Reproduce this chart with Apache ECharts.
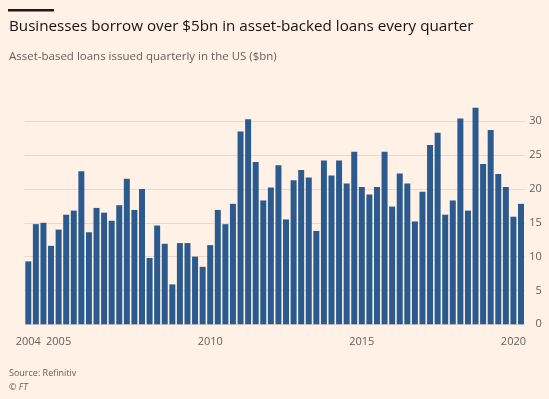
<!DOCTYPE html>
<html>
<head>
<meta charset="utf-8">
<script src="https://cdn.jsdelivr.net/npm/echarts@6/dist/echarts.min.js"></script>
<style>
  html, body { margin: 0; padding: 0; background: #fff1e5; }
  #chart { width: 549px; height: 399px; }
</style>
</head>
<body>
<div id="chart"></div>
<script>
// quarterly categories, 2004 Q1 .. 2020 Q2
const quarters = [
    '2004 Q1', '2004 Q2', '2004 Q3', '2004 Q4', '2005 Q1', '2005 Q2', '2005 Q3', '2005 Q4',
    '2006 Q1', '2006 Q2', '2006 Q3', '2006 Q4', '2007 Q1', '2007 Q2', '2007 Q3', '2007 Q4',
    '2008 Q1', '2008 Q2', '2008 Q3', '2008 Q4', '2009 Q1', '2009 Q2', '2009 Q3', '2009 Q4',
    '2010 Q1', '2010 Q2', '2010 Q3', '2010 Q4', '2011 Q1', '2011 Q2', '2011 Q3', '2011 Q4',
    '2012 Q1', '2012 Q2', '2012 Q3', '2012 Q4', '2013 Q1', '2013 Q2', '2013 Q3', '2013 Q4',
    '2014 Q1', '2014 Q2', '2014 Q3', '2014 Q4', '2015 Q1', '2015 Q2', '2015 Q3', '2015 Q4',
    '2016 Q1', '2016 Q2', '2016 Q3', '2016 Q4', '2017 Q1', '2017 Q2', '2017 Q3', '2017 Q4',
    '2018 Q1', '2018 Q2', '2018 Q3', '2018 Q4', '2019 Q1', '2019 Q2', '2019 Q3', '2019 Q4',
    '2020 Q1', '2020 Q2'
];

// asset-based loans issued, $bn
const loans = [
    9.3, 14.8, 15.0, 11.6, 14.0, 16.2, 16.8, 22.6,
    13.6, 17.2, 16.5, 15.3, 17.6, 21.5, 16.9, 20.0,
    9.8, 14.6, 11.9, 5.9, 12.0, 12.0, 10.0, 8.5,
    11.7, 16.9, 14.8, 17.8, 28.5, 30.3, 24.0, 18.3,
    20.2, 23.5, 15.5, 21.3, 22.8, 21.7, 13.8, 24.2,
    22.0, 24.2, 20.8, 25.5, 20.3, 19.2, 20.3, 25.5,
    17.4, 22.3, 20.8, 15.2, 19.6, 26.5, 28.3, 16.2,
    18.3, 30.4, 16.8, 32.0, 23.7, 28.7, 22.2, 20.3,
    15.9, 17.8
];

const yearLabels = ['2004', '2005', '2010', '2015', '2020'];

const font = "'Open Sans', sans-serif";

var chart = echarts.init(document.getElementById('chart'));

chart.setOption({
    backgroundColor: '#fff1e5',
    animation: false,
    graphic: [
        { type: 'rect', left: 8, top: 9, shape: { width: 46, height: 2.5 }, style: { fill: '#1a1a1a' } },
        {
            type: 'text', x: 9, y: 27,
            style: { text: 'Businesses borrow over $5bn in asset-backed loans every quarter', fill: '#141212', font: '15.2px ' + font, verticalAlign: 'middle' }
        },
        {
            type: 'text', x: 9, y: 57,
            style: { text: 'Asset-based loans issued quarterly in the US ($bn)', fill: '#66605c', font: '11.5px ' + font, verticalAlign: 'middle' }
        },
        {
            type: 'text', x: 9, y: 373,
            style: { text: 'Source: Refinitiv', fill: '#66605c', font: '9px ' + font, verticalAlign: 'middle' }
        },
        {
            type: 'text', x: 9, y: 387,
            style: { text: '\u00a9 FT', fill: '#66605c', font: 'italic 9px ' + font, verticalAlign: 'middle' }
        }
    ],
    grid: { left: 24.5, right: 24.2, top: 121.3, bottom: 74.7 },
    xAxis: {
        type: 'category',
        data: quarters,
        axisLine: { show: false },
        axisTick: {
            alignWithLabel: true,
            length: 8,
            interval: function (i, v) { return v.endsWith('Q1'); },
            lineStyle: { color: '#bcb2a8' }
        },
        axisLabel: {
            interval: function (i, v) { return v.endsWith('Q1') && yearLabels.includes(v.slice(0, 4)); },
            formatter: function (v) { return v.slice(0, 4); },
            margin: 12,
            color: '#66605c',
            fontFamily: font,
            fontSize: 11
        }
    },
    yAxis: {
        type: 'value',
        position: 'right',
        min: 0,
        max: 30,
        interval: 5,
        axisLine: { show: false },
        axisTick: { show: false },
        splitLine: { lineStyle: { color: '#e6d9ce' } },
        axisLabel: {
            align: 'right',
            margin: 17,
            color: '#66605c',
            fontFamily: font,
            fontSize: 11
        }
    },
    series: [{
        type: 'bar',
        data: loans,
        clip: false,
        barCategoryGap: '21%',
        itemStyle: { color: '#2b5a8e' }
    }]
});
</script>
</body>
</html>
